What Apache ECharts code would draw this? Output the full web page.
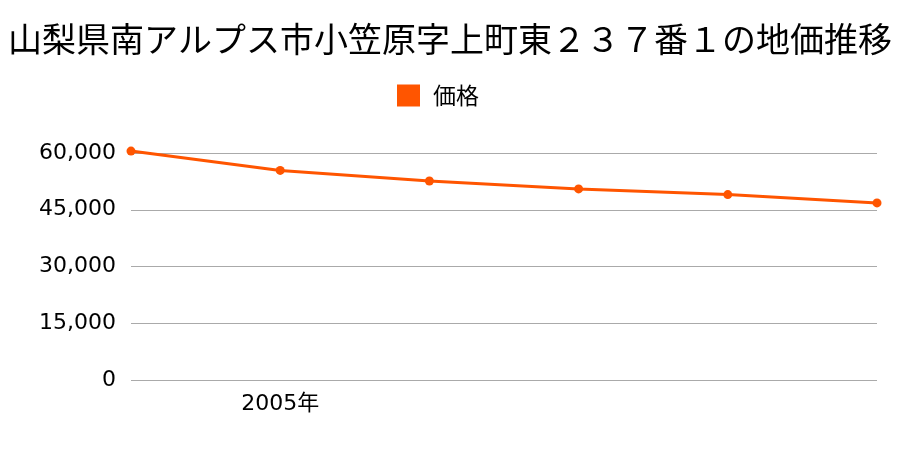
<!DOCTYPE html>
<html><head><meta charset="utf-8">
<script src="https://cdn.jsdelivr.net/npm/echarts@6/dist/echarts.min.js"></script>
<style>html,body{margin:0;padding:0;background:#fff}#c{width:900px;height:450px}</style>
</head><body><div id="c"></div>
<script>
const titleText = '山梨県南アルプス市小笠原字上町東２３７番１の地価推移';
const seriesName = '価格';
const categories = ['2004年','2005年','2006年','2007年','2008年','2009年'];
const shownLabels = ['2005年'];
const prices = [60500, 55400, 52600, 50500, 49000, 46800];
const yMin = 0, yMax = 60000, yStep = 15000;

const font = '"Noto Sans CJK JP", "Noto Sans", sans-serif';
const numFont = '"DejaVu Sans", "Noto Sans CJK JP", sans-serif';
const chart = echarts.init(document.getElementById('c'), null, {renderer:'canvas'});
chart.setOption({
  animation: false,
  backgroundColor: '#fff',
  title: { text: titleText, left: 'center', top: 17,
    textStyle: { fontFamily: font, fontSize: 34, fontWeight: 'normal', color: '#000' } },
  legend: { data: [seriesName], top: 79, left: 392, icon: 'rect', itemWidth: 23, itemHeight: 22, itemGap: 10,
    textStyle: { fontFamily: font, fontSize: 23, color: '#000', padding: [0, 0, 0, 8] } },
  grid: { left: 131, right: 23, top: 153, bottom: 70 },
  xAxis: { type: 'category', data: categories, boundaryGap: false,
    axisLine: { show: false }, axisTick: { show: false },
    axisLabel: { interval: (i, v) => shownLabels.includes(v), fontFamily: numFont, fontSize: 22, color: '#000', margin: 13 } },
  yAxis: { type: 'value', min: yMin, max: yMax, interval: yStep,
    axisLine: { show: false }, axisTick: { show: false },
    splitLine: { lineStyle: { color: '#aaa', width: 1 } },
    axisLabel: { formatter: v => v.toLocaleString('en-US'), fontFamily: numFont, fontSize: 22, color: '#000', margin: 15 } },
  series: [{ name: seriesName, type: 'line', data: prices, clip: false,
    color: '#ff5500', symbol: 'circle', symbolSize: 9,
    lineStyle: { width: 3, color: '#ff5500' }, itemStyle: { color: '#ff5500' } }]
});
</script></body></html>
